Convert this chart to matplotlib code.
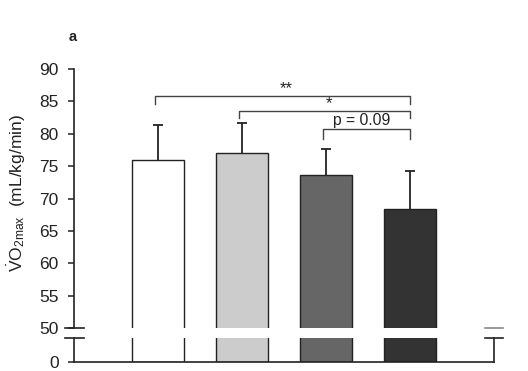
import matplotlib
matplotlib.use("Agg")
import matplotlib.pyplot as plt

plt.rcParams['font.family'] = ['Liberation Sans', 'DejaVu Sans']
plt.rcParams['mathtext.fontset'] = 'custom'
plt.rcParams['mathtext.rm'] = 'Liberation Sans'
plt.rcParams['mathtext.it'] = 'Liberation Sans:italic'

# Data
groups = ["G1", "G2", "G3", "G4"]
means = [76.0, 77.1, 73.6, 68.4]
sds = [5.4, 4.6, 4.0, 5.9]
colors = ["#ffffff", "#cccccc", "#666666", "#333333"]
upper_ticks = [50, 55, 60, 65, 70, 75, 80, 85, 90]
# significance brackets: (start index, end index, height, label)
brackets = [(0, 3, 85.8, "**"), (1, 3, 83.5, "*"), (2, 3, 80.7, "p = 0.09")]

W, H = 528, 371
fig = plt.figure(figsize=(W / 100, H / 100), dpi=100)
L, R = 74, 494
top_u, bot_u = 69, 328.3
top_l, bot_l = 338.3, 361.7
ax = fig.add_axes([L / W, 1 - bot_u / H, (R - L) / W, (bot_u - top_u) / H])
axb = fig.add_axes([L / W, 1 - bot_l / H, (R - L) / W, (bot_l - top_l) / H])

x = list(range(len(groups)))
edge = "#222222"
for a in (ax, axb):
    a.bar(x, means, width=0.61, color=colors, edgecolor=edge, linewidth=1.0, zorder=2)
    a.set_xlim(-1, 4)
    a.set_xticks([])
    a.spines['top'].set_visible(False)
    a.tick_params(axis='y', direction='out', length=4.5, width=1.1, labelsize=12.5,
                  pad=6.5, colors='#222222', labelcolor='#222222')
    for s in a.spines.values():
        s.set_linewidth(1.2)
        s.set_color('#222222')

# error bars (upper whisker only)
tops = [m + s for m, s in zip(means, sds)]
ax.vlines(x, means, tops, colors=edge, lw=1.3, zorder=3)
ax.plot(x, tops, ls='none', marker='_', markersize=7.5, markeredgewidth=1.3,
        color=edge, zorder=3)

ax.set_ylim(50, 90)
ax.set_yticks(upper_ticks)
ax.spines['right'].set_visible(False)
ax.spines['bottom'].set_visible(False)

axb.set_ylim(0, 1)
axb.set_yticks([0])
axb.set_yticklabels(["0"])
axb.spines['right'].set_visible(True)

# break markers
dx = 9.5 / (R - L)
ax.plot([-dx, dx], [0, 0], transform=ax.transAxes, color='#222222', lw=1.2, clip_on=False)
axb.plot([-dx, dx], [1, 1], transform=axb.transAxes, color='#222222', lw=1.2, clip_on=False)
ax.plot([1 - dx, 1 + dx], [0, 0], transform=ax.transAxes, color='#888888', lw=1.2, clip_on=False)
axb.plot([1 - dx, 1 + dx], [1, 1], transform=axb.transAxes, color='#222222', lw=1.2, clip_on=False)

# significance brackets
tick_len = {"**": 1.2, "*": 1.1, "p = 0.09": 1.5}
for i0, i1, yb, lab in brackets:
    t = tick_len[lab]
    ax.plot([x[i0] - 0.03, x[i0] - 0.03, x[i1], x[i1]], [yb - t, yb, yb, yb - t],
            color='#444444', lw=1.0, clip_on=False, zorder=4)
    if lab.startswith("p"):
        ax.text((x[i0] + x[i1]) / 2 - 0.07, yb + 0.2, lab, ha='center', va='bottom',
                fontsize=11.3, color='#222222')
    else:
        ax.text((x[i0] + x[i1]) / 2 + 0.03, yb + 0.05, lab, ha='center', va='bottom',
                fontsize=12, color='#222222')

fig.text(17 / W, 1 - 193 / H, r'$\dot{\rm V}$O$_{\rm 2max}$  (mL/kg/min)', rotation=90,
         ha='center', va='center', fontsize=12.5, color='#222222')
fig.text(73 / W, 1 - 37 / H, 'a', ha='center', va='center', fontsize=10.5,
         fontweight='bold', color='#222222')

fig.savefig('out.png', dpi=100)
